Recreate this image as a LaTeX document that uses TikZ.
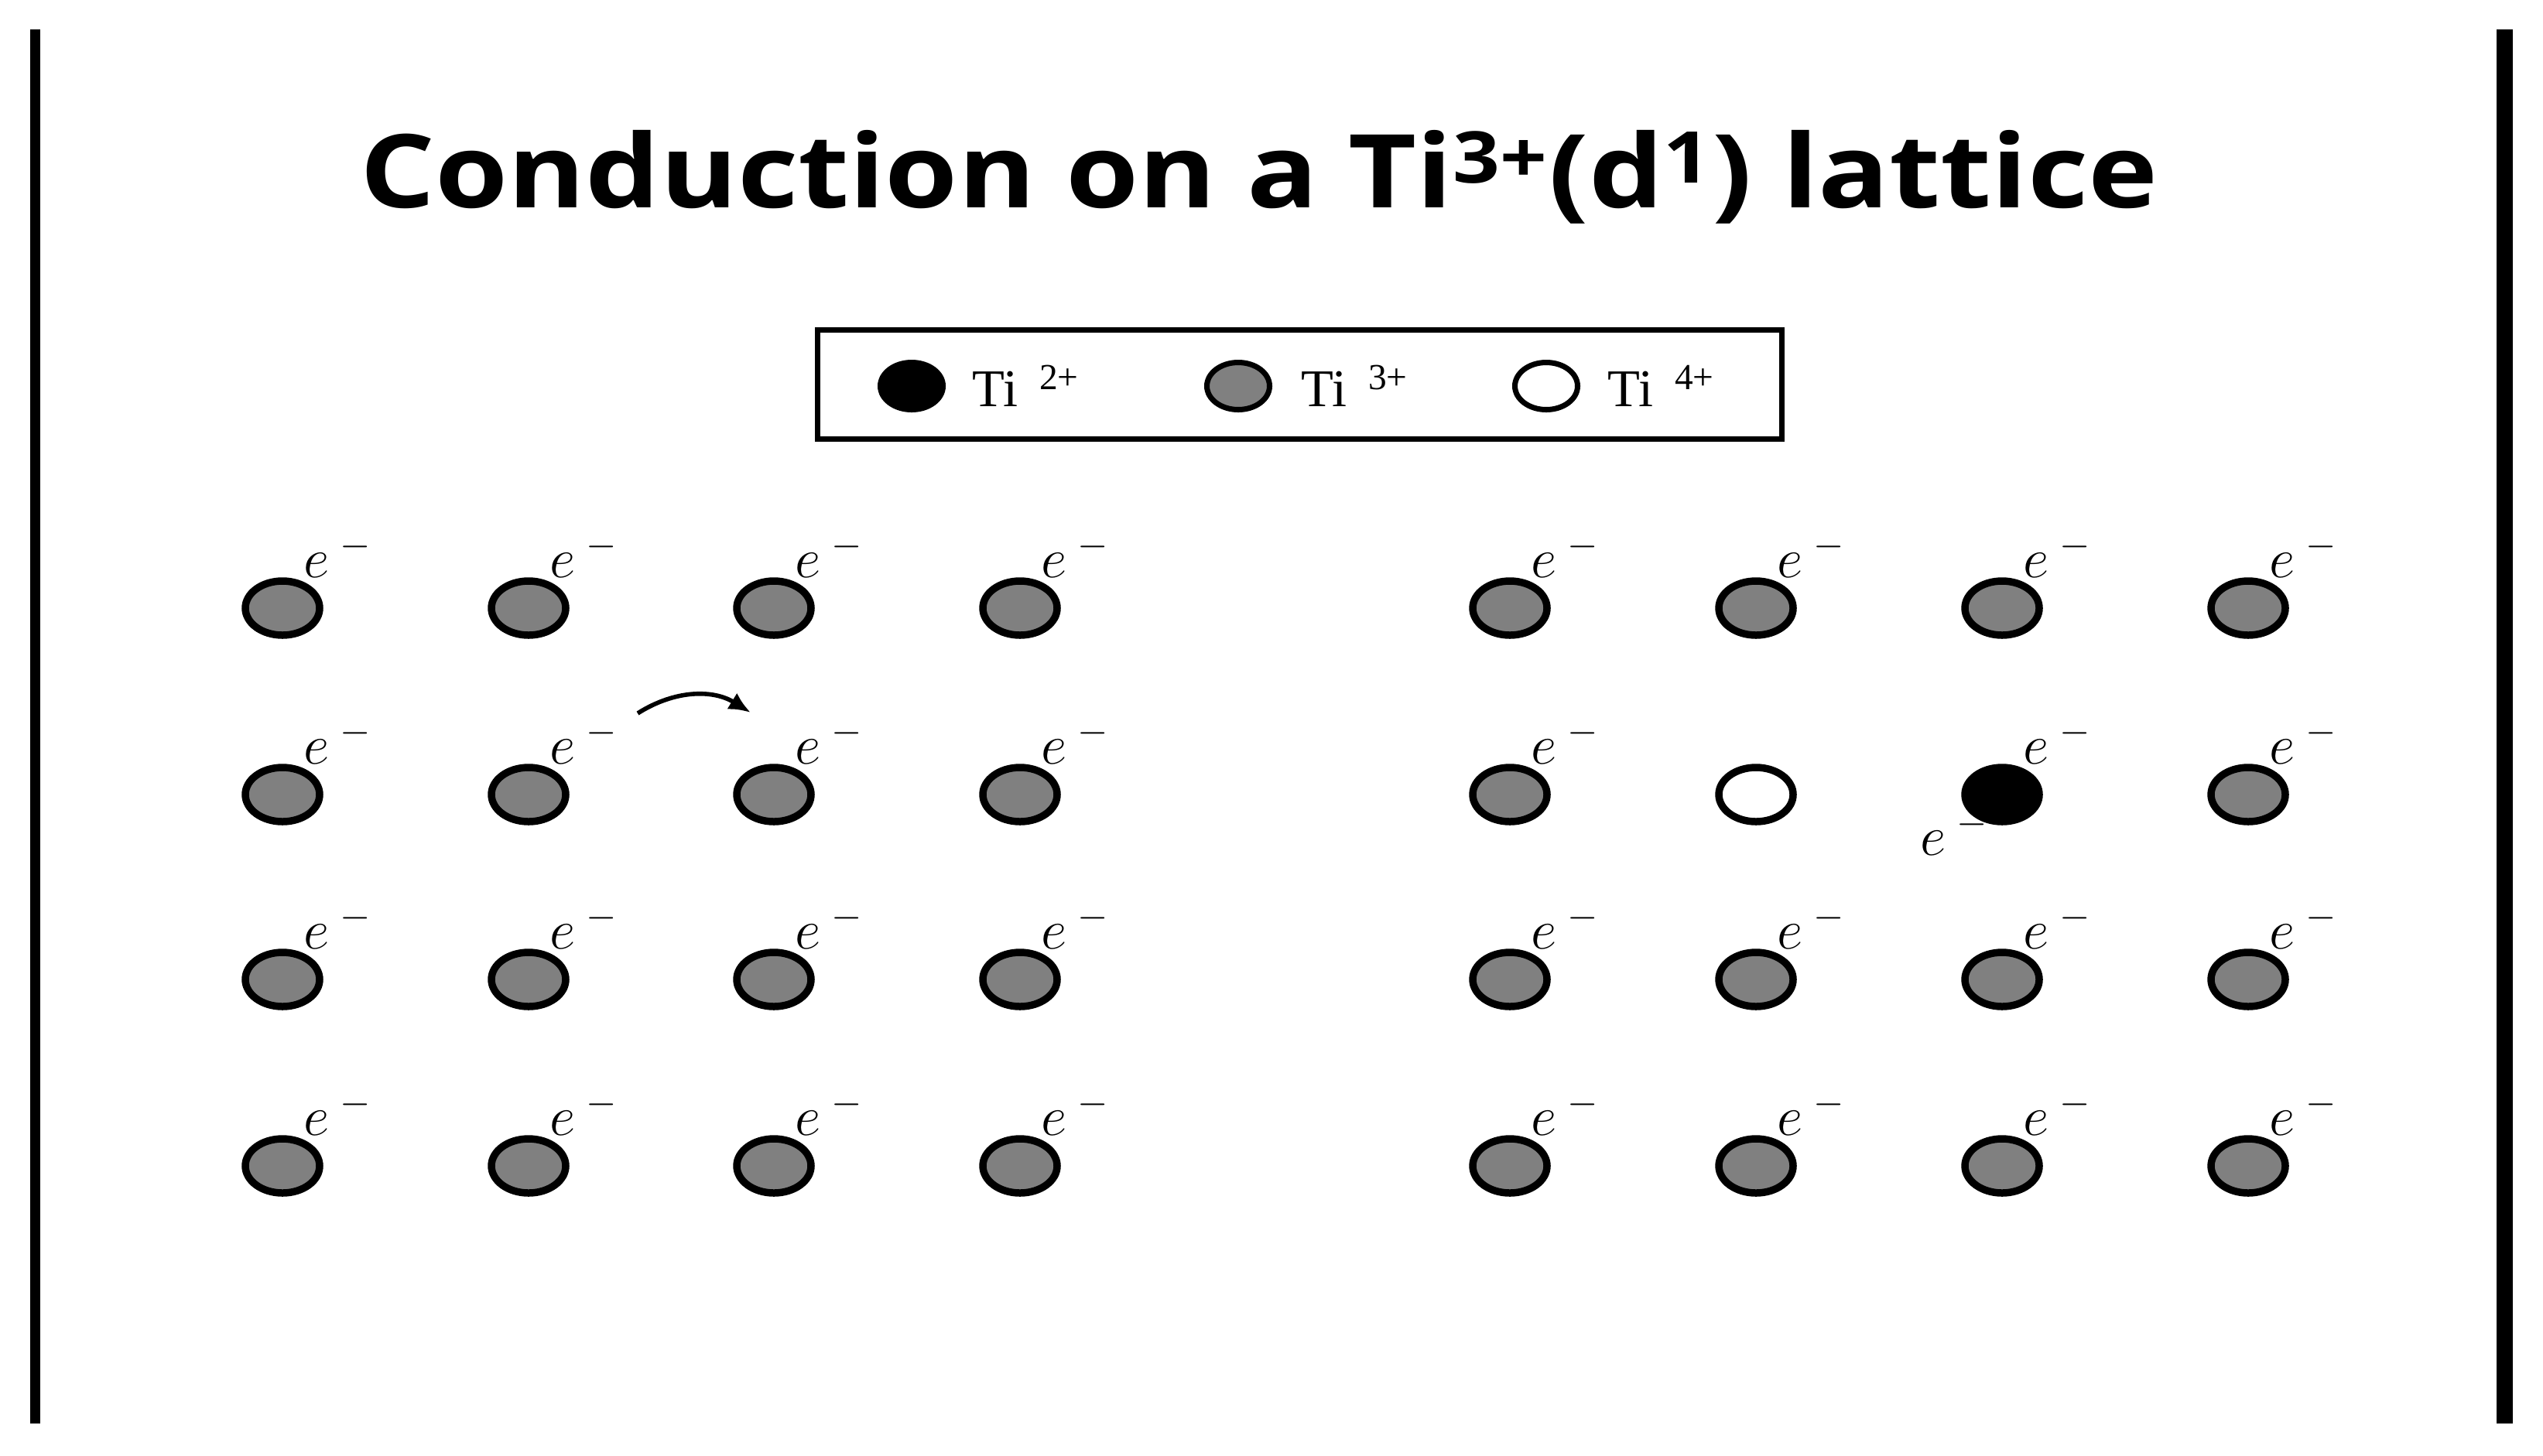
\documentclass[tikz,border=0pt]{standalone}
\usepackage{fontspec}
\newfontfamily\titlefont{Open Sans}
\newfontfamily\keyfont{Liberation Serif}
\usetikzlibrary{shapes.geometric,arrows.meta}

\begin{document}
\begin{tikzpicture}[
    x=1cm,y=-1cm,
    ion/.style={ellipse,draw=black,line width=2.7pt,inner sep=0pt,
        minimum width=0.96cm,minimum height=0.70cm},
    ti2/.style={ion,fill=black},
    ti3/.style={ion,fill=black!50},
    ti4/.style={ion,fill=white},
    keyion/.style={line width=2pt,minimum width=0.81cm,minimum height=0.61cm},
    elec/.style={anchor=base west,inner sep=0pt,
        font=\fontsize{21}{21}\selectfont},
    keytext/.style={anchor=base west,inner sep=0pt,
        font=\keyfont\fontsize{19.5}{19.5}\selectfont},
    hop/.style={-{Latex[length=8pt,width=7pt]},line width=1.6pt},
    ]
    % Page and side bars
    \fill[white] (0,0) rectangle (32.86,18.81);
    \useasboundingbox (0,0) rectangle (32.86,18.81);
    \fill (0.39,0.38) rectangle (0.52,18.40);
    \fill (32.26,0.38) rectangle (32.47,18.40);
    % Title
    \node[anchor=base,inner sep=0pt,
          font=\titlefont\bfseries\fontsize{37.5}{37.5}\selectfont]
         (title) at (16.27,2.68)
         {\scalebox{1.155}[1]{Conduction on a
          Ti\textsuperscript{3+}(d\textsuperscript{1}) lattice}};
    % Key
    \node[draw,line width=1.9pt,minimum width=12.46cm,minimum height=1.41cm]
         (key) at (16.795,4.97) {};
    \node[ti2,keyion] (key2) at (11.78,4.99) {};
    \node[ti3,keyion] (key3) at (16.00,4.99) {};
    \node[ti4,keyion] (key4) at (19.98,4.99) {};
    \node[keytext] (key2t) at (12.56,5.25)
         {Ti\hspace{0.28cm}\raisebox{0.22cm}{\fontsize{13.5}{13.5}\selectfont 2+}};
    \node[keytext] (key3t) at (16.81,5.25)
         {Ti\hspace{0.28cm}\raisebox{0.22cm}{\fontsize{13.5}{13.5}\selectfont 3+}};
    \node[keytext] (key4t) at (20.77,5.25)
         {Ti\hspace{0.28cm}\raisebox{0.22cm}{\fontsize{13.5}{13.5}\selectfont 4+}};
    % Left lattice: all Ti3+
    \foreach \r/\y in {1/7.86,2/10.27,3/12.66,4/15.07}{
        \foreach \c/\x in {1/3.65,2/6.83,3/10.00,4/13.18}{
            \node[ti3] (L-\r-\c) at (\x,\y) {};
            \node[elec] (eL-\r-\c) at ([shift={(0.27,-0.40)}]L-\r-\c.center)
                 {$e^{\;-}$};
        }
    }
    % Electron hop
    \coordinate (hopfrom) at (8.24,9.22);
    \coordinate (hopto) at (9.70,9.21);
    \draw[hop] (hopfrom) to[bend left=32] (hopto);
    % Right lattice
    \foreach \r/\y in {1/7.86,3/12.66,4/15.07}{
        \foreach \c/\x in {1/19.51,2/22.69,3/25.87,4/29.05}{
            \node[ti3] (R-\r-\c) at (\x,\y) {};
            \node[elec] (eR-\r-\c) at ([shift={(0.27,-0.40)}]R-\r-\c.center)
                 {$e^{\;-}$};
        }
    }
    \node[ti3] (R-2-1) at (19.51,10.27) {};
    \node[ti4] (R-2-2) at (22.69,10.27) {};
    \node[ti2] (R-2-3) at (25.87,10.27) {};
    \node[ti3] (R-2-4) at (29.05,10.27) {};
    \foreach \c in {1,3,4}{
        \node[elec] (eR-2-\c) at ([shift={(0.27,-0.40)}]R-2-\c.center)
             {$e^{\;-}$};
    }
    % Extra electron on the Ti2+ site
    \node[elec] (extra) at ([shift={(-1.06,0.78)}]R-2-3.center) {$e^{\;-}$};
\end{tikzpicture}
\end{document}
